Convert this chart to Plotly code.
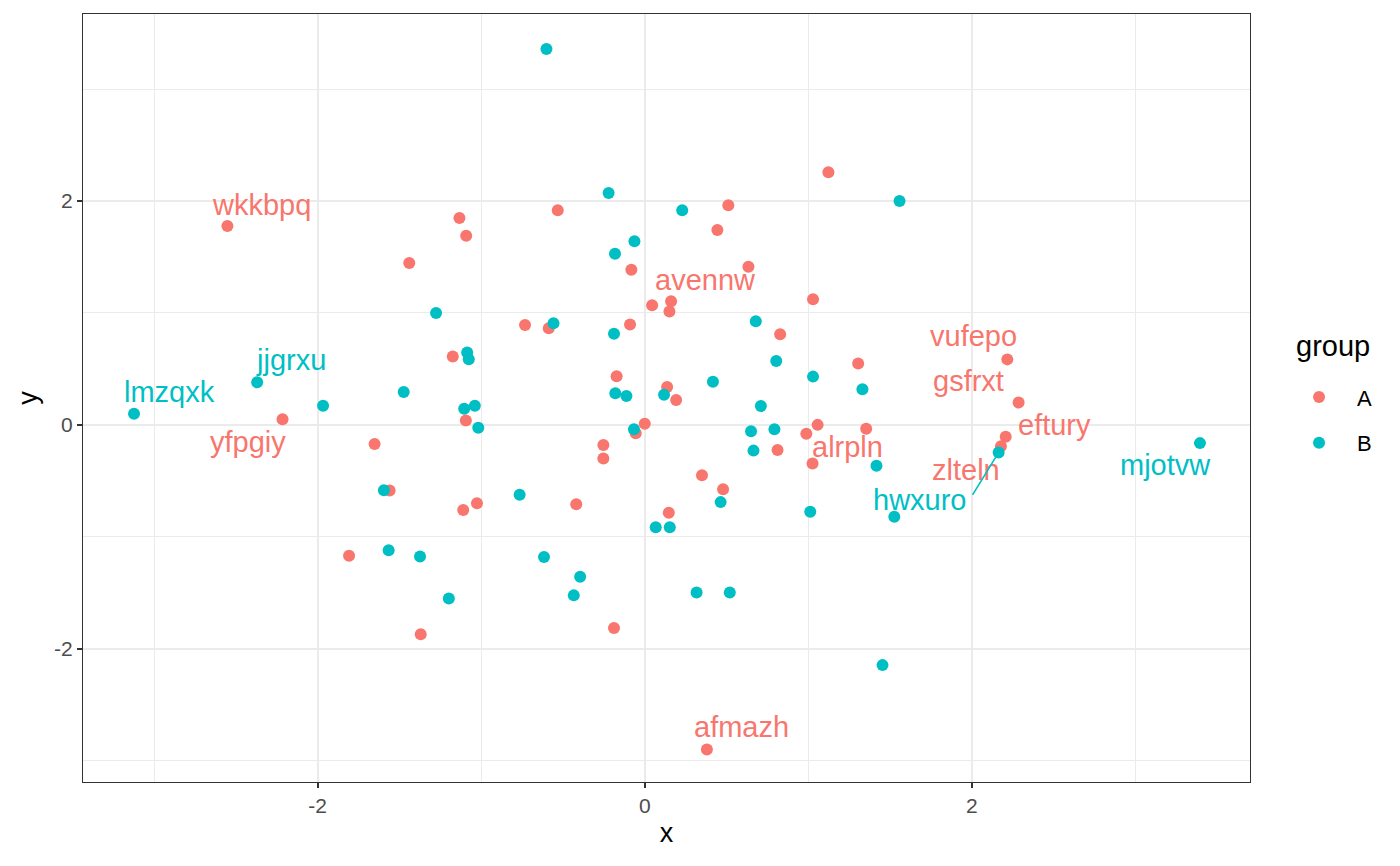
import plotly.graph_objects as go

# group A points (red)
a_x = [-2.552, -1.133, -1.092, -1.44, -0.532, 0.511, 1.123, 0.444, -0.082, 0.634,
       0.045, 0.161, 0.151, 1.029, -0.732, -0.587, -0.09, 0.828, -1.174, 1.305,
       2.217, -0.172, 0.137, 0.192, 2.286, -2.215, -1.094, 1.057, 0.0, 1.354,
       0.988, -0.055, 2.207, 2.178, 0.812, 1.026, -1.652, -0.253, -0.253, -0.419,
       0.35, 0.479, 0.147, -1.11, -1.026, -1.56, -1.808, -1.37, -0.188, 0.38]
a_y = [1.776, 1.848, 1.69, 1.445, 1.917, 1.962, 2.257, 1.74, 1.385, 1.412,
       1.069, 1.105, 1.013, 1.123, 0.893, 0.864, 0.897, 0.81, 0.61, 0.548,
       0.585, 0.435, 0.338, 0.222, 0.2, 0.05, 0.04, 0.0, 0.01, -0.035,
       -0.08, -0.075, -0.106, -0.19, -0.225, -0.345, -0.17, -0.18, -0.30, -0.71,
       -0.45, -0.575, -0.785, -0.76, -0.70, -0.586, -1.17, -1.87, -1.815, -2.90]

# group B points (cyan)
b_x = [-3.123, -2.37, -1.967, -1.474, -1.276, -1.086, -1.076, -1.104, -1.039, -1.018,
       -1.595, -1.566, -1.374, -1.198, -0.601, -0.221, 0.229, -0.063, -0.182, -0.558,
       -0.188, 0.679, 0.804, 1.029, 1.331, 0.417, 0.118, -0.18, -0.112, 0.71,
       -0.066, 0.65, 0.793, 0.665, 1.417, -0.765, 0.464, 1.012, 1.526, 0.067,
       0.153, -0.616, -0.395, -0.434, 0.317, 0.52, 1.454, 1.558, 2.164, 3.395]
b_y = [0.10, 0.38, 0.17, 0.294, 1.0, 0.646, 0.586, 0.145, 0.17, -0.026,
       -0.585, -1.12, -1.175, -1.55, 3.357, 2.072, 1.917, 1.64, 1.528, 0.908,
       0.813, 0.926, 0.571, 0.431, 0.318, 0.385, 0.27, 0.282, 0.258, 0.168,
       -0.04, -0.058, -0.04, -0.23, -0.365, -0.625, -0.69, -0.777, -0.82, -0.915,
       -0.915, -1.18, -1.356, -1.523, -1.497, -1.497, -2.146, 2.0, -0.246, -0.163]

# labelled points: name, group, index into that group's arrays
label_text = ["wkkbpq", "avennw", "vufepo", "gsfrxt", "yfpgiy", "eftury", "zlteln",
              "alrpln", "afmazh", "lmzqxk", "jjgrxu", "hwxuro", "mjotvw"]
label_group = ["A", "A", "A", "A", "A", "A", "A", "A", "A", "B", "B", "B", "B"]
label_index = [0, 11, 20, 24, 25, 32, 33, 35, 49, 0, 1, 48, 49]

# pixel offsets of each label from its point (repel placement)
label_shift = [(34, 21), (34, 21), (-34, 23), (-50, 21), (-35, -23), (49, 12), (-35, -24),
               (35, 16), (35, 23), (35, 22), (34, 22), (-79, -48), (-34, -22)]

colors = {"A": "#F8766D", "B": "#00BFC4"}
points = {"A": (a_x, a_y), "B": (b_x, b_y)}
font = "Liberation Sans, Arial, sans-serif"

fig = go.Figure()
for g in ["A", "B"]:
    xs, ys = points[g]
    fig.add_trace(go.Scatter(
        x=xs, y=ys, mode="markers", name=g, legendgroup=g,
        marker=dict(size=12, color=colors[g]),
    ))

for name, g, i, (dx, dy) in zip(label_text, label_group, label_index, label_shift):
    xs, ys = points[g]
    fig.add_annotation(x=xs[i], y=ys[i], text=name, showarrow=False,
                       xshift=dx, yshift=dy,
                       font=dict(size=29, color=colors[g], family=font))
    if name == "hwxuro":
        # repel segment from the label corner to the point
        fig.add_annotation(x=xs[i], y=ys[i], text="", showarrow=True,
                           ax=-27, ay=44, arrowhead=0, arrowwidth=1.6,
                           arrowcolor=colors[g], standoff=4)

# legend title placed by hand (ggplot leaves a wider gap above the keys)
fig.add_annotation(x=1.0377, y=0.5677, xref="paper", yref="paper",
                   xanchor="left", yanchor="middle", showarrow=False,
                   text="group", font=dict(size=29, color="black", family=font))

axis_common = dict(
    showgrid=True, gridcolor="#EBEBEB", gridwidth=2.2,
    zeroline=False, showline=True, mirror=True, linecolor="#333333", linewidth=1,
    ticks="outside", ticklen=5, tickwidth=1.5, tickcolor="#333333",
    tickfont=dict(size=21, color="#4D4D4D", family=font),
    minor=dict(dtick=1, showgrid=True, gridcolor="#EBEBEB", gridwidth=1.1, ticks=""),
)

fig.update_xaxes(range=[-3.435, 3.701], tickvals=[-2, 0, 2], ticktext=["-2", "0", "2"],
                 title=dict(text="x", font=dict(size=27, color="black", family=font), standoff=6),
                 **axis_common)
fig.update_yaxes(range=[-3.190, 3.670], tickvals=[-2, 0, 2], ticktext=["-2", "0", "2"],
                 title=dict(text="y", font=dict(size=27, color="black", family=font), standoff=8),
                 **axis_common)

# the page body adds 8px around the figure, so the figure is 16px smaller
fig.update_layout(
    width=1384, height=850,
    margin=dict(l=75, r=142, t=6, b=76),
    plot_bgcolor="white", paper_bgcolor="white",
    font=dict(family=font),
    legend=dict(
        font=dict(size=22, color="black", family=font),
        x=1.0266, xanchor="left", y=0.471, yanchor="middle",
        tracegroupgap=14, itemwidth=66,
    ),
)

fig.write_html("out.html")
